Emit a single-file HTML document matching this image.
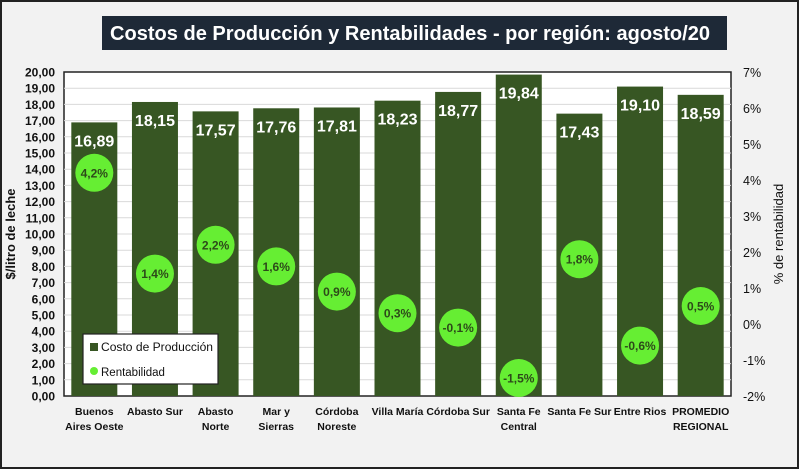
<!DOCTYPE html>
<html><head><meta charset="utf-8"><style>
html,body{margin:0;padding:0;width:800px;height:470px;overflow:hidden;background:#fff}
svg{display:block}
text{font-family:"Liberation Sans",sans-serif}
</style></head><body>
<svg id="chart" width="800" height="470" viewBox="0 0 800 470">
<rect x="1" y="1" width="797" height="467" fill="#f2f2f2" stroke="#222" stroke-width="2"/>
<rect x="102" y="16" width="625" height="34" fill="#1e2937"/>
<text x="110" y="40" textLength="600" lengthAdjust="spacingAndGlyphs" fill="#fff" font-size="20" font-weight="bold">Costos de Producción y Rentabilidades - por región: agosto/20</text>
<rect x="64" y="72" width="667" height="324" fill="#fff" stroke="#222" stroke-width="1.5"/>
<g id="grid"></g><g id="bars"></g><g id="yticks"></g><g id="y2ticks"></g><g id="xlabels"></g><g id="dots"></g>
<text transform="translate(15,234) rotate(-90)" text-anchor="middle" font-size="13" font-weight="bold" fill="#111">$/litro de leche</text>
<text transform="translate(783,234) rotate(-90)" text-anchor="middle" font-size="13" fill="#111">% de rentabilidad</text>
<g>
<rect x="83" y="334" width="135" height="50" fill="#fff" stroke="#222" stroke-width="1.2"/>
<rect x="90" y="343" width="8" height="8" fill="#375623"/>
<text x="101" y="351" font-size="11.5" textLength="112" lengthAdjust="spacingAndGlyphs" fill="#111">Costo de Producción</text>
<circle cx="94" cy="371" r="4" fill="#66ee33"/>
<text x="101" y="376" font-size="11.5" fill="#111">Rentabilidad</text>
</g>
</svg>
<script>
const categories=[["Buenos","Aires Oeste"],["Abasto Sur"],["Abasto","Norte"],["Mar y","Sierras"],["Córdoba","Noreste"],["Villa María"],["Córdoba Sur"],["Santa Fe","Central"],["Santa Fe Sur"],["Entre Rios"],["PROMEDIO","REGIONAL"]];
const costs=[16.89,18.15,17.57,17.76,17.81,18.23,18.77,19.84,17.43,19.10,18.59];
const rent=[4.2,1.4,2.2,1.6,0.9,0.3,-0.1,-1.5,1.8,-0.6,0.5];
const yTicks=[0,1,2,3,4,5,6,7,8,9,10,11,12,13,14,15,16,17,18,19,20];
const y2Ticks=[-2,-1,0,1,2,3,4,5,6,7];
const NS="http://www.w3.org/2000/svg";
const L=64,R=731,T=72,B=396;
const y=v=>B-(v/20)*(B-T);
const y2=v=>B-((v+2)/9)*(B-T);
const bw=(R-L)/categories.length;
const xc=i=>L+bw*(i+0.5);
const fmt=v=>v.toFixed(2).replace('.',',');
function mk(tag,attrs,parent,txt){const e=document.createElementNS(NS,tag);for(const k in attrs)e.setAttribute(k,attrs[k]);if(txt!==undefined)e.textContent=txt;document.getElementById(parent).appendChild(e);return e;}
yTicks.forEach(v=>{
 if(v>0&&v<20){const g=mk('line',{x1:L,x2:R,y1:y(v),y2:y(v),stroke:'#d9d9d9','stroke-width':1},'grid');
 
 }
 const t=mk('text',{x:55,y:y(v)+4.5,'text-anchor':'end','font-size':12,'font-weight':'bold',fill:'#111'},'yticks',fmt(v));
 
 
});
y2Ticks.forEach(v=>{
 const t=mk('text',{x:743,y:y2(v)+5,'font-size':12.5,fill:'#111'},'y2ticks',v+'%');
 
 
});
costs.forEach((v,i)=>{
 const r=mk('rect',{x:xc(i)-23,y:y(v),width:46,height:B-y(v),fill:'#375623'},'bars');
 
 
 const t=mk('text',{x:xc(i),y:y(v)+24,'text-anchor':'middle','font-size':16,'font-weight':'bold',fill:'#fff'},'bars',fmt(v));
 
 
});
rent.forEach((v,i)=>{
 const c=mk('circle',{cx:xc(i),cy:y2(v),r:19,fill:'#66ee33'},'dots');
 
 
 const t=mk('text',{x:xc(i),y:y2(v)+4.5,'text-anchor':'middle','font-size':12,'font-weight':'bold',fill:'#2d4a1a'},'dots',v.toFixed(1).replace('.',',')+'%');
 
 
});
categories.forEach((c,i)=>{
 c.forEach((line,j)=>{
  const t=mk('text',{x:xc(i),y:415+j*15,'text-anchor':'middle','font-size':10.5,'font-weight':'bold',fill:'#111'},'xlabels',line);
  
  
 });
});
</script>
</body></html>
